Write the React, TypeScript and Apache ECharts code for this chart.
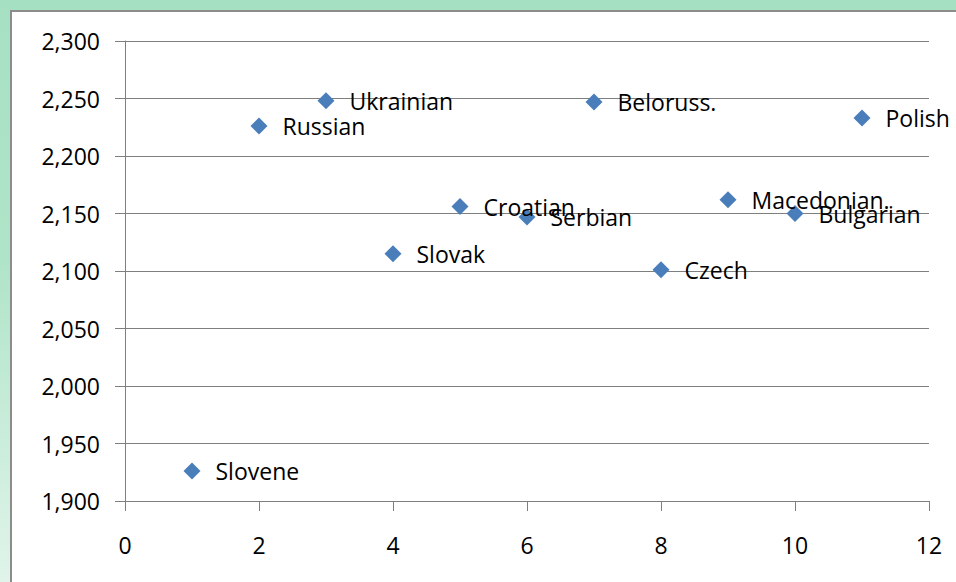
import React, { useEffect, useRef } from "react";
import * as echarts from "echarts";

// Language positions (x index) and their measured values
const languages = [
  "Slovene",
  "Russian",
  "Ukrainian",
  "Slovak",
  "Croatian",
  "Serbian",
  "Beloruss.",
  "Czech",
  "Macedonian.",
  "Bulgarian",
  "Polish",
];
const positions = [1, 2, 3, 4, 5, 6, 7, 8, 9, 10, 11];
const values = [1926, 2226, 2248, 2115, 2156, 2147, 2247, 2101, 2162, 2150, 2233];

const FONT = "'Open Sans', 'Noto Sans', sans-serif";
const GRID_COLOR = "#7f7f7f";
const TEXT_COLOR = "#000000";

function formatThousands(v: number): string {
  return Math.round(v).toLocaleString("en-US");
}

export default function App() {
  const ref = useRef<HTMLDivElement>(null);

  useEffect(() => {
    if (!ref.current) return;
    const chart = echarts.init(ref.current, undefined, { renderer: "svg" });
    const data = positions.map((x, i) => ({
      value: [x, values[i]],
      name: languages[i],
    }));
    chart.setOption({
      animation: false,
      backgroundColor: "transparent",
      grid: { left: 125, right: 27, top: 41, bottom: 81, containLabel: false },
      xAxis: {
        type: "value",
        min: 0,
        max: 12,
        interval: 2,
        axisLine: { show: true, lineStyle: { color: GRID_COLOR, width: 1 } },
        axisTick: { show: true, length: 10, lineStyle: { color: GRID_COLOR } },
        splitLine: { show: false },
        axisLabel: {
          margin: 32,
          color: TEXT_COLOR,
          fontFamily: FONT,
          fontSize: 23,
        },
      },
      yAxis: {
        type: "value",
        min: 1900,
        max: 2300,
        interval: 50,
        axisLine: { show: true, lineStyle: { color: GRID_COLOR, width: 1 } },
        axisTick: { show: true, length: 10, lineStyle: { color: GRID_COLOR } },
        splitLine: { show: true, lineStyle: { color: GRID_COLOR, width: 1 } },
        axisLabel: {
          margin: 25,
          color: TEXT_COLOR,
          fontFamily: FONT,
          fontSize: 23,
          formatter: (v: number) => formatThousands(v),
        },
      },
      series: [
        {
          type: "scatter",
          symbol: "diamond",
          symbolSize: 17,
          itemStyle: { color: "#4a7ebb", opacity: 1 },
          data,
          label: {
            show: true,
            position: "right",
            distance: 15,
            formatter: (p: any) => p.name,
            color: TEXT_COLOR,
            fontFamily: FONT,
            fontSize: 23,
          },
          labelLayout: { hideOverlap: false },
        },
      ],
    });
    return () => chart.dispose();
  }, []);

  return (
    <div
      style={{
        position: "fixed",
        left: 0,
        top: 0,
        width: 956,
        height: 582,
        background:
          "linear-gradient(to bottom, #a6e0c3 0%, #b0e4c8 45%, #e0f4ea 100%)",
        overflow: "hidden",
      }}
    >
      <div
        style={{
          position: "absolute",
          left: 10,
          top: 10,
          width: 946,
          height: 572,
          background: "#ffffff",
          borderTop: "2px solid #8c8c8c",
          borderLeft: "2px solid #8c8c8c",
          boxSizing: "border-box",
        }}
      />
      <div
        ref={ref}
        style={{ position: "absolute", left: 0, top: 0, width: 956, height: 582 }}
      />
    </div>
  );
}
